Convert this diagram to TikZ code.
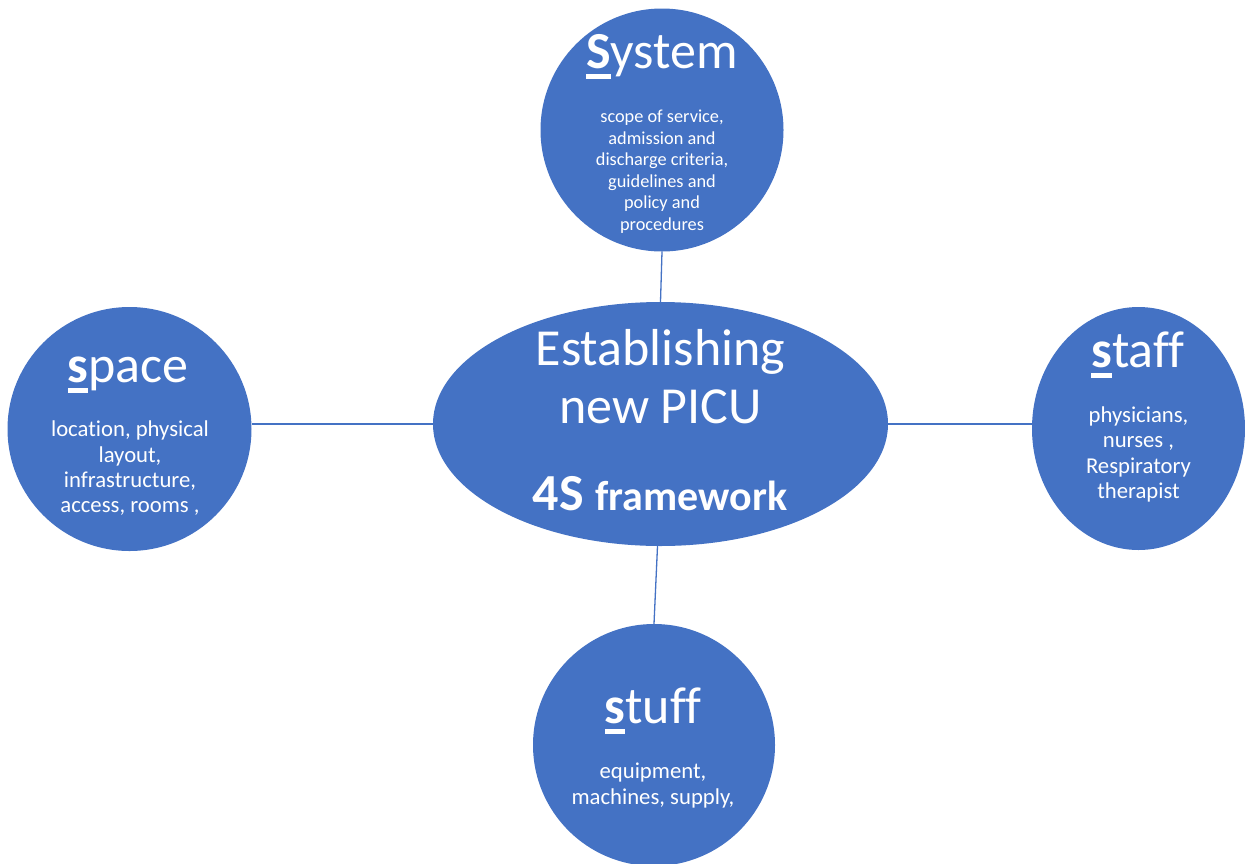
\documentclass[tikz,border=0pt]{standalone}
\usepackage{fontspec}
\setmainfont{Carlito}[Ligatures=NoCommon]
\usetikzlibrary{shapes.geometric}
\definecolor{bubble}{HTML}{4472C4}
\definecolor{linkc}{HTML}{4472C4}
\newcommand\firstul[1]{\setbox0=\hbox{\bfseries #1}\rlap{\rule[-0.21em]{\wd0}{0.1em}}\box0}
\newcommand\txtblock[3]{\fontsize{#1}{#2}\selectfont\begin{tabular}[t]{@{}c@{}}#3\end{tabular}}
\begin{document}
\begin{tikzpicture}[x=1pt,y=-1pt,
  bubcircle/.style={circle, fill=bubble, draw=none, inner sep=0pt, minimum size=243pt},
  bubellipse/.style={ellipse, fill=bubble, draw=none, inner sep=0pt},
  wtext/.style={text=white, inner sep=0pt, anchor=base},
  link/.style={draw=linkc, line width=1.3pt}]
\useasboundingbox (0,0) rectangle (1245,863);
\clip (0,0) rectangle (1245,863);

% shapes
\node[bubellipse, minimum width=455pt, minimum height=244pt] (cen) at (660.5,424) {};
\node[bubcircle] (sys) at (662,130) {};
\node[bubcircle, minimum size=244pt] (spc) at (129.5,429) {};
\node[bubellipse, minimum width=213pt, minimum height=243pt] (stf) at (1138.5,428.5) {};
\node[bubcircle, minimum size=242pt] (stu) at (654,745) {};

% connectors
\draw[link] (sys.south) -- (cen.north);
\draw[link] (cen.west) -- (cen.west -| spc.east);
\draw[link] (cen.east) -- (cen.east -| stf.west);
\draw[link] ([xshift=-3pt]cen.south) -- (stu.north);

% texts: centre
\node[wtext] (cenA) at (660.5,365) {\fontsize{52}{58}\selectfont Establishing};
\node[wtext] (cenB) at (660.5,423) {\fontsize{52}{58}\selectfont new PICU};
\node[wtext] (cenC) at (660,510) {\bfseries\fontsize{52}{58}\selectfont 4S \fontsize{42}{50}\selectfont framework};

% System
\node[wtext] (sysT) at (662,68) {\fontsize{52}{60}\selectfont\firstul{S}ystem};
\node[wtext] (sysB) at (662,122.7) {\txtblock{18.3}{21.5}{scope of service,\\admission and\\discharge criteria,\\guidelines and\\policy and\\procedures}};

% space
\node[wtext] (spcT) at (128,382) {\fontsize{52}{60}\selectfont\firstul{s}pace};
\node[wtext] (spcB) at (130,436.7) {\txtblock{22.7}{25.4}{location, physical\\layout,\\infrastructure,\\access, rooms ,}};

% staff
\node[wtext] (stfT) at (1138,367) {\fontsize{52}{60}\selectfont\firstul{s}taff};
\node[wtext] (stfB) at (1138.5,422.7) {\txtblock{22.7}{25.2}{physicians,\\nurses ,\\Respiratory\\therapist}};

% stuff
\node[wtext] (stuT) at (653,723.3) {\fontsize{52}{60}\selectfont\firstul{s}tuff};
\node[wtext] (stuB) at (653,778) {\txtblock{22.7}{26}{equipment,\\machines, supply,}};
\end{tikzpicture}
\end{document}
